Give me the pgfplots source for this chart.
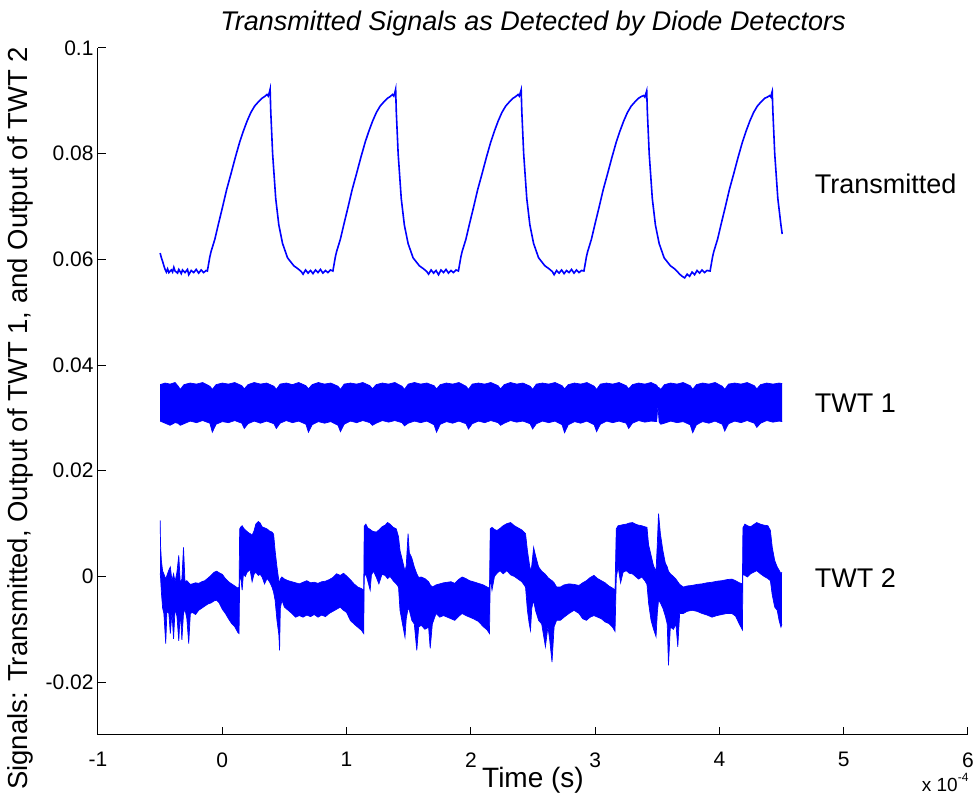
\documentclass[border=0pt]{standalone}
\usepackage{pgfplots}
\pgfplotsset{compat=1.18}
\usepackage{pgfplotstable}
\usepgfplotslibrary{fillbetween}
\usepackage{fontspec}
\setmainfont{Liberation Sans}

\pgfplotstableread{
x lo hi
-0.500 0.0294 0.0363
-0.460 0.0290 0.0366
-0.420 0.0286 0.0364
-0.380 0.0291 0.0367
-0.358 0.0290 0.0361
-0.338 0.0286 0.0354
-0.308 0.0289 0.0363
-0.258 0.0294 0.0366
-0.208 0.0291 0.0364
-0.158 0.0295 0.0367
-0.100 0.0290 0.0360
-0.080 0.0273 0.0354
-0.050 0.0288 0.0363
0.000 0.0293 0.0366
0.050 0.0291 0.0364
0.100 0.0295 0.0367
0.157 0.0290 0.0361
0.177 0.0280 0.0355
0.207 0.0289 0.0363
0.257 0.0294 0.0367
0.307 0.0290 0.0364
0.357 0.0294 0.0366
0.415 0.0289 0.0360
0.435 0.0280 0.0354
0.465 0.0290 0.0364
0.515 0.0295 0.0366
0.565 0.0291 0.0363
0.615 0.0294 0.0367
0.673 0.0288 0.0361
0.693 0.0273 0.0355
0.723 0.0287 0.0363
0.773 0.0293 0.0367
0.823 0.0290 0.0364
0.873 0.0293 0.0366
0.931 0.0286 0.0360
0.951 0.0274 0.0354
0.981 0.0288 0.0364
1.031 0.0294 0.0366
1.081 0.0291 0.0364
1.131 0.0295 0.0367
1.188 0.0291 0.0361
1.208 0.0286 0.0355
1.238 0.0290 0.0363
1.288 0.0295 0.0366
1.338 0.0292 0.0364
1.388 0.0295 0.0367
1.446 0.0291 0.0360
1.466 0.0285 0.0354
1.496 0.0290 0.0364
1.546 0.0294 0.0367
1.596 0.0291 0.0364
1.646 0.0294 0.0366
1.704 0.0287 0.0361
1.724 0.0273 0.0355
1.754 0.0288 0.0363
1.804 0.0293 0.0366
1.854 0.0290 0.0364
1.904 0.0294 0.0367
1.961 0.0289 0.0360
1.981 0.0279 0.0354
2.011 0.0289 0.0364
2.061 0.0294 0.0366
2.111 0.0291 0.0364
2.161 0.0295 0.0367
2.219 0.0291 0.0361
2.239 0.0286 0.0355
2.269 0.0290 0.0363
2.319 0.0295 0.0367
2.369 0.0292 0.0364
2.419 0.0294 0.0366
2.477 0.0289 0.0360
2.497 0.0279 0.0354
2.527 0.0289 0.0364
2.577 0.0294 0.0366
2.627 0.0291 0.0364
2.677 0.0294 0.0367
2.734 0.0287 0.0361
2.754 0.0272 0.0355
2.784 0.0287 0.0363
2.834 0.0293 0.0366
2.884 0.0290 0.0364
2.934 0.0294 0.0367
2.992 0.0287 0.0360
3.012 0.0274 0.0354
3.042 0.0288 0.0364
3.092 0.0294 0.0366
3.142 0.0291 0.0364
3.192 0.0294 0.0367
3.250 0.0290 0.0361
3.270 0.0280 0.0355
3.300 0.0290 0.0363
3.350 0.0295 0.0366
3.400 0.0292 0.0364
3.450 0.0294 0.0367
3.495 0.0293 0.0362
3.505 0.0323 0.0358
3.515 0.0292 0.0357
3.528 0.0288 0.0354
3.558 0.0290 0.0363
3.608 0.0294 0.0366
3.658 0.0291 0.0364
3.708 0.0293 0.0367
3.765 0.0287 0.0361
3.785 0.0272 0.0354
3.815 0.0287 0.0363
3.865 0.0293 0.0366
3.915 0.0290 0.0364
3.965 0.0294 0.0367
4.023 0.0288 0.0360
4.043 0.0275 0.0354
4.073 0.0289 0.0364
4.123 0.0294 0.0366
4.173 0.0291 0.0364
4.223 0.0295 0.0367
4.281 0.0290 0.0361
4.301 0.0282 0.0355
4.331 0.0290 0.0363
4.381 0.0295 0.0366
4.431 0.0292 0.0364
4.480 0.0294 0.0366
4.505 0.0293 0.0365
}\twtone

\pgfplotstableread{
x lo hi
-0.500 0.0006 0.0106
-0.497 0.0000 0.0060
-0.490 -0.0030 0.0030
-0.480 -0.0060 0.0010
-0.470 -0.0070 0.0005
-0.455 -0.0127 -0.0005
-0.445 -0.0065 0.0002
-0.430 -0.0070 0.0012
-0.418 -0.0108 0.0018
-0.405 -0.0068 -0.0008
-0.392 -0.0118 0.0005
-0.380 -0.0062 -0.0010
-0.365 -0.0075 0.0008
-0.350 -0.0122 0.0040
-0.338 -0.0066 -0.0012
-0.325 -0.0120 -0.0005
-0.312 -0.0070 0.0055
-0.300 -0.0062 -0.0010
-0.285 -0.0080 -0.0008
-0.270 -0.0127 -0.0012
-0.257 -0.0070 -0.0015
-0.240 -0.0068 -0.0014
-0.215 -0.0072 -0.0012
-0.190 -0.0064 -0.0013
-0.165 -0.0060 -0.0010
-0.140 -0.0056 -0.0008
-0.115 -0.0052 -0.0003
-0.090 -0.0050 0.0002
-0.065 -0.0046 0.0008
-0.045 -0.0045 0.0010
-0.025 -0.0050 0.0007
0.000 -0.0062 0.0004
0.025 -0.0070 -0.0004
0.050 -0.0080 -0.0010
0.075 -0.0089 -0.0014
0.100 -0.0095 -0.0018
0.125 -0.0106 -0.0022
0.135 -0.0108 -0.0020
0.140 -0.0001 0.0090
0.150 -0.0005 0.0094
0.160 -0.0026 0.0096
0.170 0.0005 0.0092
0.185 0.0000 0.0088
0.200 0.0008 0.0085
0.215 0.0011 0.0082
0.225 0.0011 0.0081
0.240 -0.0010 0.0078
0.255 0.0004 0.0086
0.270 0.0008 0.0099
0.290 0.0002 0.0104
0.305 0.0004 0.0101
0.320 -0.0001 0.0094
0.340 -0.0014 0.0092
0.360 -0.0004 0.0090
0.380 -0.0010 0.0086
0.400 -0.0020 0.0084
0.413 -0.0030 0.0080
0.425 -0.0045 0.0049
0.440 -0.0083 0.0018
0.455 -0.0110 -0.0008
0.461 -0.0140 -0.0015
0.467 -0.0060 -0.0005
0.480 -0.0045 -0.0001
0.500 -0.0058 -0.0005
0.530 -0.0064 -0.0008
0.560 -0.0070 -0.0010
0.590 -0.0077 -0.0012
0.620 -0.0074 -0.0014
0.650 -0.0077 -0.0011
0.680 -0.0073 -0.0008
0.710 -0.0076 -0.0012
0.740 -0.0072 -0.0011
0.770 -0.0077 -0.0013
0.800 -0.0073 -0.0010
0.830 -0.0076 -0.0009
0.860 -0.0070 -0.0006
0.890 -0.0066 -0.0002
0.920 -0.0062 0.0005
0.950 -0.0058 0.0002
0.975 -0.0064 0.0006
1.000 -0.0068 0.0001
1.030 -0.0083 -0.0006
1.060 -0.0090 -0.0014
1.090 -0.0096 -0.0020
1.120 -0.0102 -0.0023
1.138 -0.0108 -0.0026
1.142 0.0000 0.0095
1.155 0.0005 0.0099
1.170 -0.0008 0.0092
1.190 -0.0026 0.0089
1.200 0.0003 0.0087
1.217 0.0010 0.0085
1.240 -0.0002 0.0084
1.260 -0.0014 0.0088
1.285 0.0004 0.0094
1.310 0.0002 0.0097
1.330 -0.0004 0.0102
1.350 0.0000 0.0099
1.375 -0.0008 0.0093
1.400 -0.0014 0.0090
1.418 -0.0020 0.0075
1.430 -0.0064 0.0049
1.450 -0.0090 0.0030
1.470 -0.0115 0.0010
1.480 -0.0080 0.0020
1.495 -0.0060 0.0081
1.505 -0.0064 0.0045
1.525 -0.0083 0.0035
1.545 -0.0090 0.0018
1.565 -0.0140 0.0005
1.580 -0.0096 -0.0002
1.600 -0.0092 -0.0001
1.630 -0.0100 -0.0004
1.660 -0.0096 -0.0010
1.673 -0.0136 -0.0016
1.690 -0.0090 -0.0020
1.720 -0.0070 -0.0016
1.750 -0.0077 -0.0014
1.780 -0.0074 -0.0012
1.810 -0.0077 -0.0011
1.840 -0.0080 -0.0010
1.870 -0.0083 -0.0013
1.900 -0.0076 -0.0006
1.930 -0.0070 -0.0001
1.960 -0.0074 -0.0004
1.990 -0.0077 -0.0008
2.020 -0.0080 -0.0010
2.060 -0.0085 -0.0013
2.100 -0.0095 -0.0016
2.130 -0.0101 -0.0020
2.150 -0.0108 -0.0022
2.156 0.0000 0.0090
2.170 -0.0026 0.0093
2.190 0.0000 0.0089
2.210 0.0006 0.0087
2.235 0.0011 0.0091
2.260 0.0005 0.0096
2.290 0.0011 0.0100
2.320 0.0003 0.0102
2.350 0.0000 0.0096
2.380 -0.0005 0.0092
2.410 -0.0010 0.0088
2.440 -0.0020 0.0081
2.455 -0.0064 0.0049
2.470 -0.0090 0.0025
2.480 -0.0102 0.0010
2.490 -0.0060 0.0020
2.505 -0.0045 0.0055
2.520 -0.0064 0.0040
2.545 -0.0083 0.0018
2.570 -0.0090 0.0010
2.600 -0.0133 0.0004
2.620 -0.0095 -0.0002
2.635 -0.0121 -0.0005
2.653 -0.0162 -0.0008
2.670 -0.0095 -0.0012
2.690 -0.0083 -0.0020
2.720 -0.0083 -0.0020
2.750 -0.0077 -0.0016
2.790 -0.0070 -0.0014
2.830 -0.0064 -0.0015
2.870 -0.0070 -0.0017
2.900 -0.0080 -0.0012
2.930 -0.0083 -0.0008
2.960 -0.0077 -0.0002
2.990 -0.0074 0.0002
3.020 -0.0077 -0.0004
3.050 -0.0080 -0.0008
3.080 -0.0086 -0.0012
3.110 -0.0089 -0.0018
3.140 -0.0096 -0.0022
3.160 -0.0104 -0.0026
3.170 -0.0002 0.0090
3.185 0.0018 0.0096
3.205 -0.0012 0.0097
3.225 0.0008 0.0098
3.250 0.0011 0.0099
3.275 0.0006 0.0101
3.300 0.0005 0.0102
3.325 0.0000 0.0099
3.350 -0.0005 0.0097
3.375 -0.0001 0.0096
3.400 -0.0008 0.0094
3.417 -0.0015 0.0093
3.430 -0.0050 0.0060
3.450 -0.0083 0.0040
3.470 -0.0100 0.0020
3.490 -0.0114 0.0010
3.500 -0.0070 0.0060
3.510 -0.0045 0.0119
3.525 -0.0050 0.0081
3.545 -0.0060 0.0049
3.565 -0.0075 0.0025
3.580 -0.0090 0.0018
3.590 -0.0168 0.0010
3.605 -0.0096 0.0005
3.630 -0.0100 0.0000
3.650 -0.0090 -0.0005
3.665 -0.0133 -0.0010
3.680 -0.0070 -0.0015
3.710 -0.0070 -0.0020
3.740 -0.0066 -0.0018
3.780 -0.0064 -0.0017
3.820 -0.0066 -0.0015
3.860 -0.0070 -0.0014
3.900 -0.0073 -0.0012
3.940 -0.0077 -0.0011
3.980 -0.0074 -0.0009
4.020 -0.0072 -0.0008
4.060 -0.0070 -0.0006
4.100 -0.0070 -0.0005
4.130 -0.0075 -0.0008
4.160 -0.0090 -0.0012
4.185 -0.0101 -0.0014
4.189 0.0005 0.0092
4.205 0.0002 0.0099
4.225 -0.0001 0.0096
4.250 0.0005 0.0094
4.275 0.0008 0.0098
4.300 0.0011 0.0102
4.330 0.0005 0.0099
4.360 0.0000 0.0097
4.390 -0.0004 0.0096
4.410 -0.0008 0.0087
4.425 -0.0035 0.0055
4.445 -0.0058 0.0030
4.465 -0.0064 0.0018
4.480 -0.0083 0.0012
4.495 -0.0096 0.0005
4.503 -0.0090 0.0008
}\twttwo

\begin{document}
\begin{tikzpicture}
\begin{axis}[name=ax, scale only axis, width=870pt, height=687pt,
  xmin=-1, xmax=6, ymin=-0.03, ymax=0.1,
  axis lines*=left,
  axis line style={black, line width=1pt, -},
  tick align=inside, major tick length=8pt,
  tick style={black, line width=1pt},
  xtick={-1,0,1,2,3,4,5,6},
  xticklabels={-1,0,1,2,3,4,5,6},
  ytick={-0.02,0,0.02,0.04,0.06,0.08,0.1},
  yticklabels={-0.02,0,0.02,0.04,0.06,0.08,0.1},
  scaled ticks=false,
  ticklabel style={font=\fontsize{21}{24}\selectfont},
  xticklabel style={yshift=-14pt},
  yticklabel style={xshift=-1pt},
  xlabel={Time (s)},
  ylabel={Signals: Transmitted, Output of TWT 1, and Output of TWT 2},
  xlabel style={at={(axis description cs:0.5,0)}, anchor=center, yshift=-45pt, font=\fontsize{28}{32}\selectfont},
  ylabel style={at={(axis description cs:0,0.5)}, anchor=center, yshift=78pt, xshift=-27pt, font=\fontsize{27.5}{32}\selectfont},
  title={Transmitted Signals as Detected by Diode Detectors},
  title style={at={(axis description cs:0.5,1)}, anchor=center, yshift=18pt, font=\fontsize{27}{32}\selectfont\itshape},
]
% Transmitted
\addplot[blue, line width=1.6pt] coordinates {
(-0.50,0.0612) (-0.49,0.0603) (-0.48,0.0596) (-0.47,0.0588) (-0.46,0.0581) (-0.45,0.0576) (-0.44,0.0582) (-0.43,0.0575) (-0.41,0.0580) (-0.40,0.0576) (-0.39,0.0585) (-0.38,0.0578) (-0.36,0.0574) (-0.35,0.0581) (-0.33,0.0573) (-0.32,0.0580) (-0.30,0.0575) (-0.28,0.0581) (-0.27,0.0571) (-0.25,0.0579) (-0.23,0.0575) (-0.21,0.0581) (-0.19,0.0574) (-0.17,0.0580) (-0.15,0.0575) (-0.13,0.0579)
(-0.12,0.0578) (-0.10,0.0605) (-0.09,0.0615) (-0.06,0.0638) (-0.03,0.0668) (0.00,0.0697) (0.035,0.0732) (0.07,0.0762) (0.105,0.0793) (0.14,0.0822) (0.17,0.0843) (0.20,0.0862) (0.23,0.0878) (0.26,0.0890) (0.29,0.0898) (0.32,0.0905) (0.34,0.0908) (0.36,0.0912) (0.37,0.0909) (0.38,0.0917) (0.385,0.0922)
(0.39,0.0880) (0.405,0.0800) (0.43,0.0715) (0.455,0.0665) (0.485,0.0630) (0.525,0.0603) (0.575,0.0588) (0.61,0.0582) (0.635,0.0577) (0.65,0.0572) (0.67,0.0580) (0.69,0.0574) (0.71,0.0579) (0.73,0.0573) (0.75,0.0580) (0.77,0.0575) (0.79,0.0581) (0.81,0.0574) (0.83,0.0579) (0.85,0.0575) (0.87,0.0580) (0.89,0.0578)
(0.91,0.0605) (0.92,0.0615) (0.95,0.0638) (0.98,0.0668) (1.01,0.0697) (1.045,0.0732) (1.08,0.0762) (1.115,0.0793) (1.15,0.0822) (1.18,0.0843) (1.21,0.0862) (1.24,0.0878) (1.27,0.0890) (1.30,0.0898) (1.33,0.0905) (1.35,0.0908) (1.37,0.0912) (1.38,0.0909) (1.39,0.0917) (1.395,0.0922)
(1.40,0.0880) (1.415,0.0800) (1.44,0.0715) (1.465,0.0665) (1.495,0.0630) (1.535,0.0603) (1.585,0.0588) (1.62,0.0582) (1.645,0.0577) (1.66,0.0572) (1.68,0.0580) (1.70,0.0574) (1.72,0.0579) (1.74,0.0571) (1.76,0.0580) (1.78,0.0575) (1.80,0.0581) (1.82,0.0574) (1.84,0.0579) (1.86,0.0575) (1.88,0.0580) (1.90,0.0578)
(1.92,0.0605) (1.93,0.0615) (1.96,0.0638) (1.99,0.0668) (2.02,0.0697) (2.055,0.0732) (2.09,0.0762) (2.125,0.0793) (2.16,0.0822) (2.19,0.0843) (2.22,0.0862) (2.25,0.0878) (2.28,0.0890) (2.31,0.0898) (2.34,0.0905) (2.36,0.0908) (2.38,0.0912) (2.39,0.0909) (2.40,0.0917) (2.405,0.0921)
(2.41,0.0880) (2.425,0.0800) (2.45,0.0715) (2.475,0.0665) (2.505,0.0630) (2.545,0.0603) (2.595,0.0588) (2.63,0.0582) (2.655,0.0577) (2.67,0.0571) (2.69,0.0579) (2.71,0.0574) (2.73,0.0580) (2.75,0.0573) (2.77,0.0579) (2.79,0.0575) (2.81,0.0581) (2.83,0.0574) (2.85,0.0580) (2.87,0.0575) (2.89,0.0579) (2.91,0.0578)
(2.93,0.0605) (2.94,0.0615) (2.97,0.0638) (3.00,0.0668) (3.03,0.0697) (3.065,0.0732) (3.10,0.0762) (3.135,0.0793) (3.17,0.0822) (3.20,0.0843) (3.23,0.0862) (3.26,0.0878) (3.29,0.0890) (3.32,0.0898) (3.35,0.0905) (3.37,0.0908) (3.39,0.0910) (3.40,0.0907) (3.41,0.0915) (3.415,0.0919)
(3.42,0.0880) (3.435,0.0800) (3.46,0.0715) (3.485,0.0665) (3.515,0.0630) (3.555,0.0603) (3.605,0.0588) (3.64,0.0582) (3.665,0.0576) (3.68,0.0572) (3.70,0.0568) (3.72,0.0565) (3.74,0.0572) (3.76,0.0568) (3.78,0.0576) (3.80,0.0571) (3.82,0.0579) (3.84,0.0574) (3.86,0.0580) (3.88,0.0575) (3.90,0.0579) (3.925,0.0578)
(3.945,0.0605) (3.955,0.0615) (3.985,0.0638) (4.015,0.0668) (4.045,0.0697) (4.08,0.0732) (4.115,0.0762) (4.15,0.0793) (4.185,0.0822) (4.215,0.0843) (4.245,0.0862) (4.275,0.0878) (4.305,0.0890) (4.335,0.0898) (4.365,0.0905) (4.385,0.0907) (4.405,0.0910) (4.415,0.0907) (4.42,0.0914) (4.425,0.0918)
(4.43,0.0880) (4.445,0.0800) (4.47,0.0715) (4.495,0.0665) (4.505,0.0648)
};
% TWT 1
\addplot[blue, line width=0.7pt, name path=aU] table[x=x, y=hi] {\twtone};
\addplot[blue, line width=0.7pt, name path=aL] table[x=x, y=lo] {\twtone};
\addplot[blue] fill between[of=aU and aL];
% TWT 2
\addplot[blue, line width=0.7pt, name path=bU] table[x=x, y=hi] {\twttwo};
\addplot[blue, line width=0.7pt, name path=bL] table[x=x, y=lo] {\twttwo};
\addplot[blue] fill between[of=bU and bL];
\node[anchor=west, font=\fontsize{27}{30}\selectfont] at (axis cs:4.74,0.0742) {Transmitted};
\node[anchor=west, font=\fontsize{27}{30}\selectfont] at (axis cs:4.74,0.0328) {TWT 1};
\node[anchor=west, font=\fontsize{27}{30}\selectfont] at (axis cs:4.74,-0.0004) {TWT 2};
\end{axis}
\node[anchor=base east, font=\fontsize{19}{22}\selectfont] at ([xshift=4pt, yshift=-57pt]ax.south east) {x 10\raisebox{0.55em}{\fontsize{12}{12}\selectfont -4}};
\pgfresetboundingbox
\path[use as bounding box] ([shift={(-98pt,-60pt)}]ax.south west) rectangle ([shift={(877pt,735pt)}]ax.south west);
\end{tikzpicture}
\end{document}
